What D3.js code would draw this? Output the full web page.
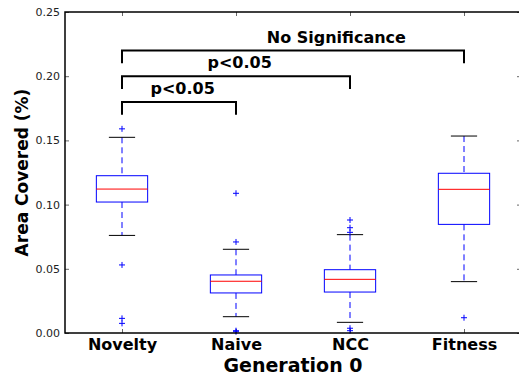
<!DOCTYPE html>
<html>
<head>
<meta charset="utf-8">
<script src="https://cdn.jsdelivr.net/npm/d3@7"></script>
<style>
  body { margin: 0; background: #fff; }
  svg { display: block; font-family: 'DejaVu Sans', sans-serif; }
</style>
</head>
<body>
<div id="chart"></div>
<script>
// box plot summary per method
const categories = ['Novelty', 'Naive', 'NCC', 'Fitness'];
const whiskerLow = [0.076, 0.0127, 0.0083, 0.040];
const q1 = [0.102, 0.0312, 0.0319, 0.0846];
const medians = [0.1121, 0.0403, 0.0418, 0.1119];
const q3 = [0.1225, 0.0452, 0.0493, 0.1244];
const whiskerHigh = [0.1524, 0.0652, 0.0766, 0.1534];
const fliers = [
  [0.159, 0.053, 0.0114, 0.0075],
  [0.1088, 0.0709, 0.0018, 0.001],
  [0.088, 0.082, 0.0784, 0.0037, 0.0018],
  [0.0119]
];

// significance brackets
const bracketFrom = [1, 1, 1];
const bracketTo = [2, 3, 4];
const bracketTop = [0.18, 0.20, 0.22];
const bracketBottom = [0.17, 0.19, 0.21];
const bracketLabels = ['p<0.05', 'p<0.05', 'No Significance'];
const labelX = [1.25, 1.75, 2.27];
const labelY = [0.1865, 0.2065, 0.2255];

const yTicks = [0, 0.05, 0.10, 0.15, 0.20, 0.25];

var margin = { top: 12, right: -2, bottom: 43, left: 65 };
var width = 519 - margin.left - margin.right;
var height = 376 - margin.top - margin.bottom;

var svg = d3.select('#chart')
  .append('svg')
  .attr('width', 519)
  .attr('height', 376)
  .append('g')
  .attr('transform', 'translate(' + margin.left + ',' + margin.top + ')');

var x = d3.scaleLinear().domain([0.5, 4.5]).range([0, width]);
var y = d3.scaleLinear().domain([0, 0.25]).range([height, 0]);
var boxW = x(1.45) - x(1);
var capW = x(1.23) - x(1);

// Y axis (left) with inward ticks
var yAxis = svg.append('g')
  .call(d3.axisLeft(y).tickValues(yTicks).tickFormat(d3.format('.2f'))
    .tickSizeInner(-4).tickSizeOuter(0).tickPadding(5));
yAxis.select('.domain').remove();
yAxis.selectAll('line').attr('stroke', '#000').attr('stroke-width', 0.6);
yAxis.selectAll('text').attr('font-size', '11px').attr('fill', '#222')
  .attr('font-family', 'DejaVu Sans');

// right ticks
var yRight = svg.append('g')
  .attr('transform', 'translate(' + width + ',0)')
  .call(d3.axisRight(y).tickValues(yTicks).tickFormat('').tickSizeInner(-4).tickSizeOuter(0));
yRight.select('.domain').remove();
yRight.selectAll('line').attr('stroke', '#000').attr('stroke-width', 0.6);

// X axis (bottom)
var xAxis = svg.append('g')
  .attr('transform', 'translate(0,' + height + ')')
  .call(d3.axisBottom(x).tickValues([1, 2, 3, 4]).tickFormat((d) => categories[d - 1])
    .tickSizeInner(-4).tickSizeOuter(0).tickPadding(6));
xAxis.select('.domain').remove();
xAxis.selectAll('line').attr('stroke', '#000').attr('stroke-width', 0.6);
xAxis.selectAll('text').attr('font-size', '16px').attr('font-weight', 'bold').attr('fill', '#000')
  .attr('font-family', 'DejaVu Sans');

// top ticks
var xTop = svg.append('g')
  .call(d3.axisTop(x).tickValues([1, 2, 3, 4]).tickFormat('').tickSizeInner(-4).tickSizeOuter(0));
xTop.select('.domain').remove();
xTop.selectAll('line').attr('stroke', '#000').attr('stroke-width', 0.6);

// boxes
var boxes = svg.selectAll('.box')
  .data(categories)
  .enter()
  .append('g')
  .attr('class', 'box');

// whiskers
boxes.append('line')
  .attr('x1', (d, i) => x(i + 1)).attr('x2', (d, i) => x(i + 1))
  .attr('y1', (d, i) => y(whiskerHigh[i])).attr('y2', (d, i) => y(q3[i]))
  .attr('stroke', '#0000ff').attr('stroke-dasharray', '6,4');
boxes.append('line')
  .attr('x1', (d, i) => x(i + 1)).attr('x2', (d, i) => x(i + 1))
  .attr('y1', (d, i) => y(q1[i])).attr('y2', (d, i) => y(whiskerLow[i]))
  .attr('stroke', '#0000ff').attr('stroke-dasharray', '6,4');

// caps
[whiskerHigh, whiskerLow].forEach((arr) => {
  boxes.append('line')
    .attr('x1', (d, i) => x(i + 1) - capW / 2).attr('x2', (d, i) => x(i + 1) + capW / 2)
    .attr('y1', (d, i) => y(arr[i])).attr('y2', (d, i) => y(arr[i]))
    .attr('stroke', '#000');
});

boxes.append('rect')
  .attr('x', (d, i) => x(i + 1) - boxW / 2)
  .attr('y', (d, i) => y(q3[i]))
  .attr('width', boxW)
  .attr('height', (d, i) => y(q1[i]) - y(q3[i]))
  .attr('fill', 'none')
  .attr('stroke', '#0000ff');

boxes.append('line')
  .attr('x1', (d, i) => x(i + 1) - boxW / 2).attr('x2', (d, i) => x(i + 1) + boxW / 2)
  .attr('y1', (d, i) => y(medians[i])).attr('y2', (d, i) => y(medians[i]))
  .attr('stroke', '#ff0000');

// fliers as '+'
var flierData = [];
fliers.forEach((f, i) => f.forEach((v) => flierData.push({ pos: i + 1, value: v })));
svg.selectAll('.flier')
  .data(flierData)
  .enter()
  .append('path')
  .attr('class', 'flier')
  .attr('d', (d) => {
    var cx = x(d.pos), cy = y(d.value);
    return 'M' + (cx - 3) + ',' + cy + 'H' + (cx + 3) + 'M' + cx + ',' + (cy - 3) + 'V' + (cy + 3);
  })
  .attr('stroke', '#0000ff')
  .attr('stroke-width', 1)
  .attr('fill', 'none');

// significance brackets
svg.selectAll('.bracket')
  .data(bracketLabels)
  .enter()
  .append('path')
  .attr('class', 'bracket')
  .attr('d', (d, i) => 'M' + x(bracketFrom[i]) + ',' + y(bracketBottom[i]) +
    'V' + y(bracketTop[i]) + 'H' + x(bracketTo[i]) + 'V' + y(bracketBottom[i]))
  .attr('fill', 'none')
  .attr('stroke', '#000')
  .attr('stroke-width', 2);

svg.selectAll('.blabel')
  .data(bracketLabels)
  .enter()
  .append('text')
  .attr('x', (d, i) => x(labelX[i]))
  .attr('y', (d, i) => y(labelY[i]))
  .attr('font-size', '16px')
  .attr('font-weight', 'bold')
  .text((d) => d);

// frame
svg.append('rect')
  .attr('width', width).attr('height', height)
  .attr('fill', 'none').attr('stroke', '#000').attr('stroke-width', 1.5);

// axis titles
svg.append('text')
  .attr('transform', 'translate(' + (28 - margin.left) + ',' + height / 2 + ')rotate(-90)')
  .attr('text-anchor', 'middle')
  .attr('font-size', '17px')
  .attr('font-weight', 'bold')
  .text('Area Covered (%)');

svg.append('text')
  .attr('x', 293 - margin.left)
  .attr('y', 372 - margin.top)
  .attr('text-anchor', 'middle')
  .attr('font-size', '19px')
  .attr('font-weight', 'bold')
  .text('Generation 0');
</script>
</body>
</html>
